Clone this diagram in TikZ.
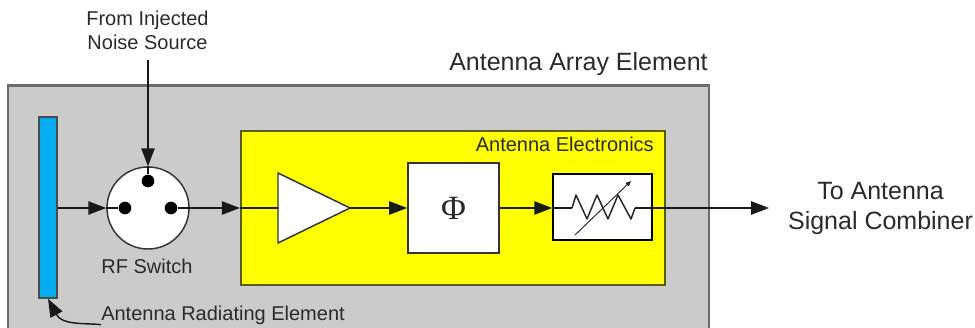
\documentclass[tikz,border=0pt]{standalone}
\usepackage{fontspec}
\setmainfont{Liberation Sans}
\newfontfamily\phifont{Liberation Serif}
\usetikzlibrary{arrows.meta}
\definecolor{txt}{HTML}{2A2A2A}
\definecolor{greybg}{HTML}{CBCBCB}
\definecolor{greyline}{HTML}{6A6A6A}
\definecolor{yelline}{HTML}{5A5A10}
\definecolor{barblue}{HTML}{00ADEF}
\definecolor{pureyellow}{HTML}{FFFF00}
\tikzset{
  box/.style={draw=#1,line width=1.6pt,inner sep=0pt,rectangle},
  big/.style={font=\fontsize{18.75}{22.5}\selectfont,text=txt,inner sep=0pt,align=center},
  small/.style={font=\fontsize{15}{18}\selectfont,text=txt,inner sep=0pt,align=center},
  wire/.style={line width=1.1pt,draw=black!90},
  tip/.style={-{Triangle[length=13.5pt,width=10pt]},wire},
  dotn/.style={circle,fill=black,inner sep=0pt,minimum size=9.5pt},
}
\begin{document}
\begin{tikzpicture}[x=0.75pt,y=-0.75pt]
\useasboundingbox (0,0) rectangle (975,328);
\begin{scope}
\clip (0,0) rectangle (975,328);
\node[box=greyline,fill=greybg,minimum width=701*0.75pt,minimum height=260*0.75pt,anchor=north west] (elem) at (6.5,84.5) {};
\end{scope}
\node[box=yelline,fill=pureyellow,minimum width=424*0.75pt,minimum height=154*0.75pt] (elec) at (453,208) {};
\node[draw=black!70,line width=1.1pt,fill=barblue,inner sep=0pt,minimum width=18*0.75pt,minimum height=181*0.75pt] (bar) at (48,207.5) {};
\node[circle,draw=black!80,line width=1.1pt,fill=white,inner sep=0pt,minimum size=82*0.75pt] (sw) at (148,208) {};
\node[dotn] (d1) at (125,208) {};
\node[dotn] (d2) at (171,208) {};
\node[dotn] (d3) at (148,181) {};
\node[box=black!80,fill=white,minimum width=91*0.75pt,minimum height=90*0.75pt,line width=1.3pt,font=\phifont\fontsize{25.5}{26}\selectfont,text=txt] (phi) at (453.5,208) {Φ};
\node[box=black,fill=white,minimum width=99*0.75pt,minimum height=66*0.75pt,line width=1.1pt] (att) at (602.5,207) {};
% amplifier
\coordinate (ampin) at (278,208);
\coordinate (ampout) at (350,208);
\draw[draw=black!80,line width=1.1pt,fill=white,line join=miter] (278,173) -- (ampout) -- (278,243) -- cycle;
% resistor
\coordinate (rin) at (572,208);
\coordinate (rout) at (635,208);
\draw[line width=1.1pt,draw=black!85,line join=round] (rin) -- (576,195) -- (587,219) -- (597,195) -- (608,219) -- (618,195) -- (631,219) -- (rout);
\coordinate (sl1) at (575,235);
\coordinate (sl2) at (631,181);
\draw[line width=0.7pt,draw=black!85,-{Triangle[length=4pt,width=3.5pt]}] (sl1) -- (sl2);
% connectors
\coordinate (noise) at (148,60);
\coordinate (out) at (769,208);
\draw[tip] (noise) -- (sw.north);
\draw[wire] (sw.north) -- (d3);
\draw[tip] (bar.east |- sw.west) -- (sw.west);
\draw[wire] (sw.west) -- (d1);
\draw[wire] (d2) -- (sw.east);
\draw[tip] (sw.east) -- (elec.west);
\draw[wire] (elec.west) -- (ampin);
\draw[tip] (ampout) -- (phi.west);
\draw[tip] (phi.east) -- (att.west |- phi.east);
\draw[wire] (att.west |- phi.east) -- (rin);
\draw[tip] (rout) -- (out);
% labels
\node[big,anchor=west] (title) at (449,64.5) {Antenna Array Element};
\node[small] (src) at (147.5,30) {From Injected\\Noise Source};
\node[small] (rf) at (147,266) {RF Switch};
\node[small,anchor=east] (el) at (654,144) {Antenna Electronics};
\node[small,anchor=west] (rad) at (101,315) {Antenna Radiating Element};
\node[big] (comb) at (880.5,208.5) {To Antenna\\Signal Combiner};
\draw[wire,-{Triangle[length=13.5pt,width=10pt]}] (rad.south west) .. controls (82,323) and (62,325) .. (bar.south);
\end{tikzpicture}
\end{document}
